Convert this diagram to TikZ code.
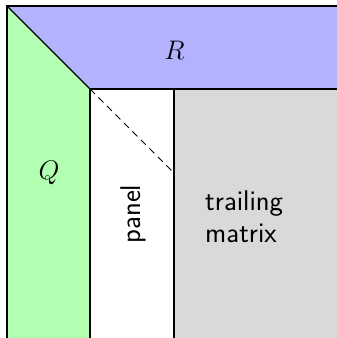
\documentclass[tikz,border=0pt]{standalone}
\begin{document}
\begin{tikzpicture}[x=1pt,y=1pt,
  edge/.style={line width=1.1pt,line join=miter},
  lbl/.style={inner sep=0pt,scale=1.08,font=\fontsize{24.88}{30}\selectfont},
  slbl/.style={inner sep=0pt,font=\fontsize{28.5}{32}\selectfont\sffamily}]
\useasboundingbox (0,0) rectangle (337,338);
\clip (0,0) rectangle (337,338);
\coordinate (tl) at (7,332);
\coordinate (c) at (90,249);
\coordinate (p) at (174,249);
\coordinate (d) at (174,165);
\coordinate (bl) at (7,-10);
\coordinate (cb) at (90,-10);
\coordinate (pb) at (174,-10);
\coordinate (tr) at (350,332);
\coordinate (cr) at (350,249);
\coordinate (br) at (350,-10);
\fill[green!30] (tl) -- (c) -- (cb) -- (bl) -- cycle;
\fill[blue!30] (tl) -- (tr) -- (cr) -- (c) -- cycle;
\fill[black!15] (p) -- (cr) -- (br) -- (pb) -- cycle;
\fill[white] (c) -- (p) -- (pb) -- (cb) -- cycle;
\draw[edge] (bl) -- (tl) -- (tr);
\draw[edge] (tl) -- (c);
\draw[edge] (cb) -- (c) -- (cr);
\draw[edge] (p) -- (pb);
\draw[line width=0.9pt,dash pattern=on 7pt off 5pt] (c) -- (d);
\node[lbl] (R) at (174.5,288) {$R$};
\node[lbl] (Q) at (49,165) {$Q$};
\node[slbl,rotate=90] (panel) at (133,124) {panel};
\node[slbl,align=left,anchor=west] (trail) at (205,121) {trailing\\matrix};
\end{tikzpicture}
\end{document}
